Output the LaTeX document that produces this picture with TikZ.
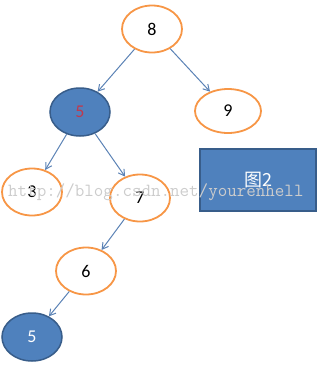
\documentclass[tikz,border=0pt]{standalone}
\usepackage{fontspec}
\setmainfont{Carlito}
\newfontfamily\cjkfont{Noto Sans CJK SC}
\usepackage{xcolor}
\usepackage{tikz}
\usetikzlibrary{arrows.meta,shapes.geometric}
\definecolor{ringorange}{HTML}{F79646}
\definecolor{nodeblue}{HTML}{4F81BD}
\definecolor{edgeblue}{HTML}{385D8A}
\definecolor{arrowblue}{HTML}{5B82B5}
\definecolor{keyred}{HTML}{C0394D}
\begin{document}
\begin{tikzpicture}[x=1pt, y=-1pt,
  font=\fontsize{18}{21}\selectfont,
  plain/.style={ellipse, draw=ringorange, line width=1.8pt, fill=white,
                minimum width=60pt, minimum height=47pt, inner sep=0pt},
  marked/.style={ellipse, draw=edgeblue, line width=1.5pt, fill=nodeblue,
                 minimum width=60pt, minimum height=48pt, inner sep=0pt},
  caption/.style={draw=edgeblue, line width=1.2pt, fill=nodeblue, text=white,
                  minimum width=116pt, minimum height=62pt, inner sep=0pt},
  arr/.style={-{Straight Barb[length=6pt, width=7pt]}, arrowblue, line width=1pt},
]
\useasboundingbox (0,0) rectangle (321,368);

\node[plain] (n8) at (152,29) {8};
\node[marked] (n5) at (80,112) {\textcolor{keyred}{5}};
\node[plain, minimum width=66pt, minimum height=44pt] (n9) at (228,111) {9};
\node[plain] (n3) at (32,192) {3};
\node[plain] (n7) at (140,198) {7};
\node[plain] (n6) at (86,271) {6};
\node[marked, text=white] (n5b) at (32,337) {5};
\node[caption] (fig) at (258,180) {\cjkfont 图2};

\draw[arr] (n8) -- (n5);
\draw[arr] (n8) -- (n9);
\draw[arr] (n5) -- (n3);
\draw[arr] (n5) -- (n7);
\draw[arr] (n7) -- (n6);
\draw[arr] (n6) -- (n5b);

% watermark over the picture
\node[anchor=west, inner sep=0pt, text=black!20, font=\ttfamily\fontsize{18.5}{20}\selectfont]
  (mark) at (8,192) {http://blog.csdn.net/yourenhell};
\end{tikzpicture}
\end{document}
